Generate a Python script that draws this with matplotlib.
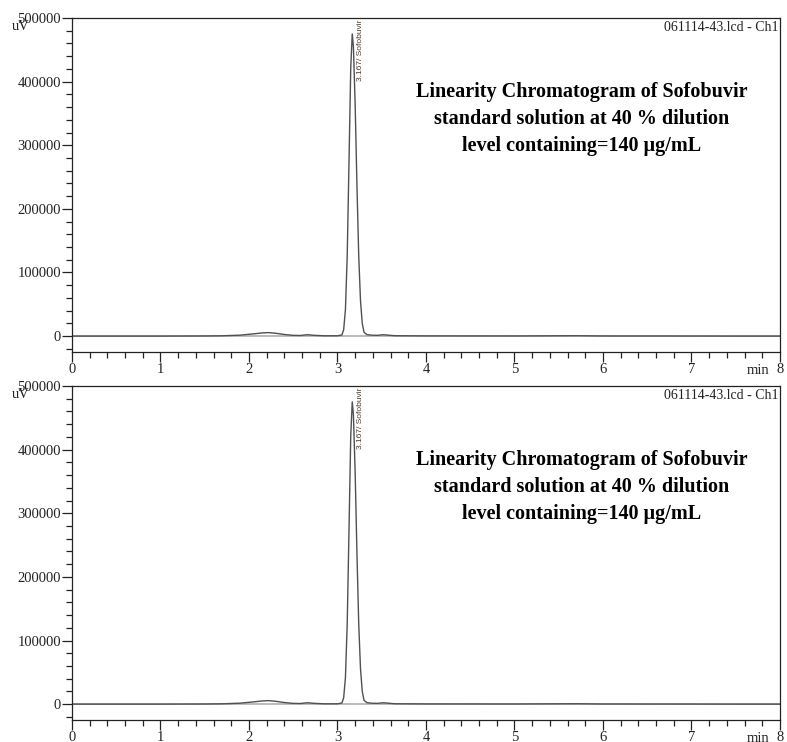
import matplotlib
matplotlib.use("Agg")
import matplotlib.pyplot as plt
from matplotlib.ticker import MultipleLocator

# Chromatogram trace (min, uV)
time_min = [0.0, 0.5, 1.0, 1.5, 1.7, 1.9, 2.05, 2.15, 2.22, 2.3, 2.4, 2.5, 2.58,
            2.66, 2.74, 2.85, 3.0, 3.05, 3.07, 3.09, 3.11, 3.13, 3.15, 3.167,
            3.18, 3.20, 3.22, 3.24, 3.26, 3.28, 3.30, 3.33, 3.38, 3.45, 3.52,
            3.57, 3.65, 4.0, 5.0, 5.7, 6.0, 7.0, 7.5, 8.0]
signal_uv = [0, 0, 0, 200, 500, 1500, 3500, 5000, 5500, 4500, 2500, 1200, 1000,
             2200, 1200, 500, 500, 1800, 10000, 42000, 126000, 272000, 422000, 475000,
             455000, 363000, 237000, 127000, 56000, 20000, 6000, 2500, 1500, 1200, 2200,
             1500, 600, 300, 200, 600, 200, 100, 0, 0]

x_ticks = [0, 1, 2, 3, 4, 5, 6, 7, 8]
y_ticks = [0, 100000, 200000, 300000, 400000, 500000]
peak_label = "3.167/ Sofobuvir"
file_label = "061114-43.lcd - Ch1"
title_lines = ["Linearity Chromatogram of Sofobuvir",
               "standard solution at 40 % dilution",
               "level containing=140 \u00b5g/mL"]

plt.rcParams['font.family'] = ['Liberation Serif', 'DejaVu Serif']

fig = plt.figure(figsize=(7.87, 7.42), dpi=100)

# axes boxes in figure fractions (left, bottom, width, height)
boxes = [(0.0915, 0.5256, 0.8995, 0.4501),
         (0.0915, 0.0296, 0.8995, 0.4502)]

for box in boxes:
    ax = fig.add_axes(box)
    ax.plot([0, 8], [0, 0], color='#b5b5b5', lw=1.3, zorder=1)
    ax.plot(time_min, signal_uv, color='#505050', lw=1.0, zorder=2)

    ax.set_xlim(0, 8)
    ax.set_ylim(-25000, 500000)
    ax.set_xticks(x_ticks)
    ax.set_yticks(y_ticks)
    ax.xaxis.set_minor_locator(MultipleLocator(0.2))
    ax.yaxis.set_minor_locator(MultipleLocator(20000))
    ax.tick_params(which='major', direction='out', length=7, width=0.9,
                   labelsize=10.5, pad=1, colors='#222222')
    ax.tick_params(which='minor', direction='out', length=4, width=0.9,
                   colors='#222222')
    for s in ax.spines.values():
        s.set_linewidth(0.9)
        s.set_color('#222222')

    # "min" sits between 7 and 8 in the tick label row
    ax.text(7.75, -0.035, "min", transform=ax.get_xaxis_transform(),
            ha='center', va='top', fontsize=10.5, color='#222222')
    ax.text(-0.06, 0.975, "uV", transform=ax.transAxes, ha='right', va='center',
            fontsize=10.5, color='#222222')
    ax.text(0.998, 0.992, file_label, transform=ax.transAxes, ha='right',
            va='top', fontsize=10, color='#222222')
    ax.text(3.26, 497000, peak_label, rotation=90, ha='center', va='top',
            fontsize=6, color='#4a3a30', family=['Liberation Sans', 'DejaVu Sans'])

    for i, line in enumerate(title_lines):
        ax.text(5.76, 0.778 - i * 0.081, line, transform=ax.get_xaxis_transform(),
                ha='center', va='center', fontsize=14.5, fontweight='bold',
                color='black')

fig.savefig("out.png", dpi=100)
